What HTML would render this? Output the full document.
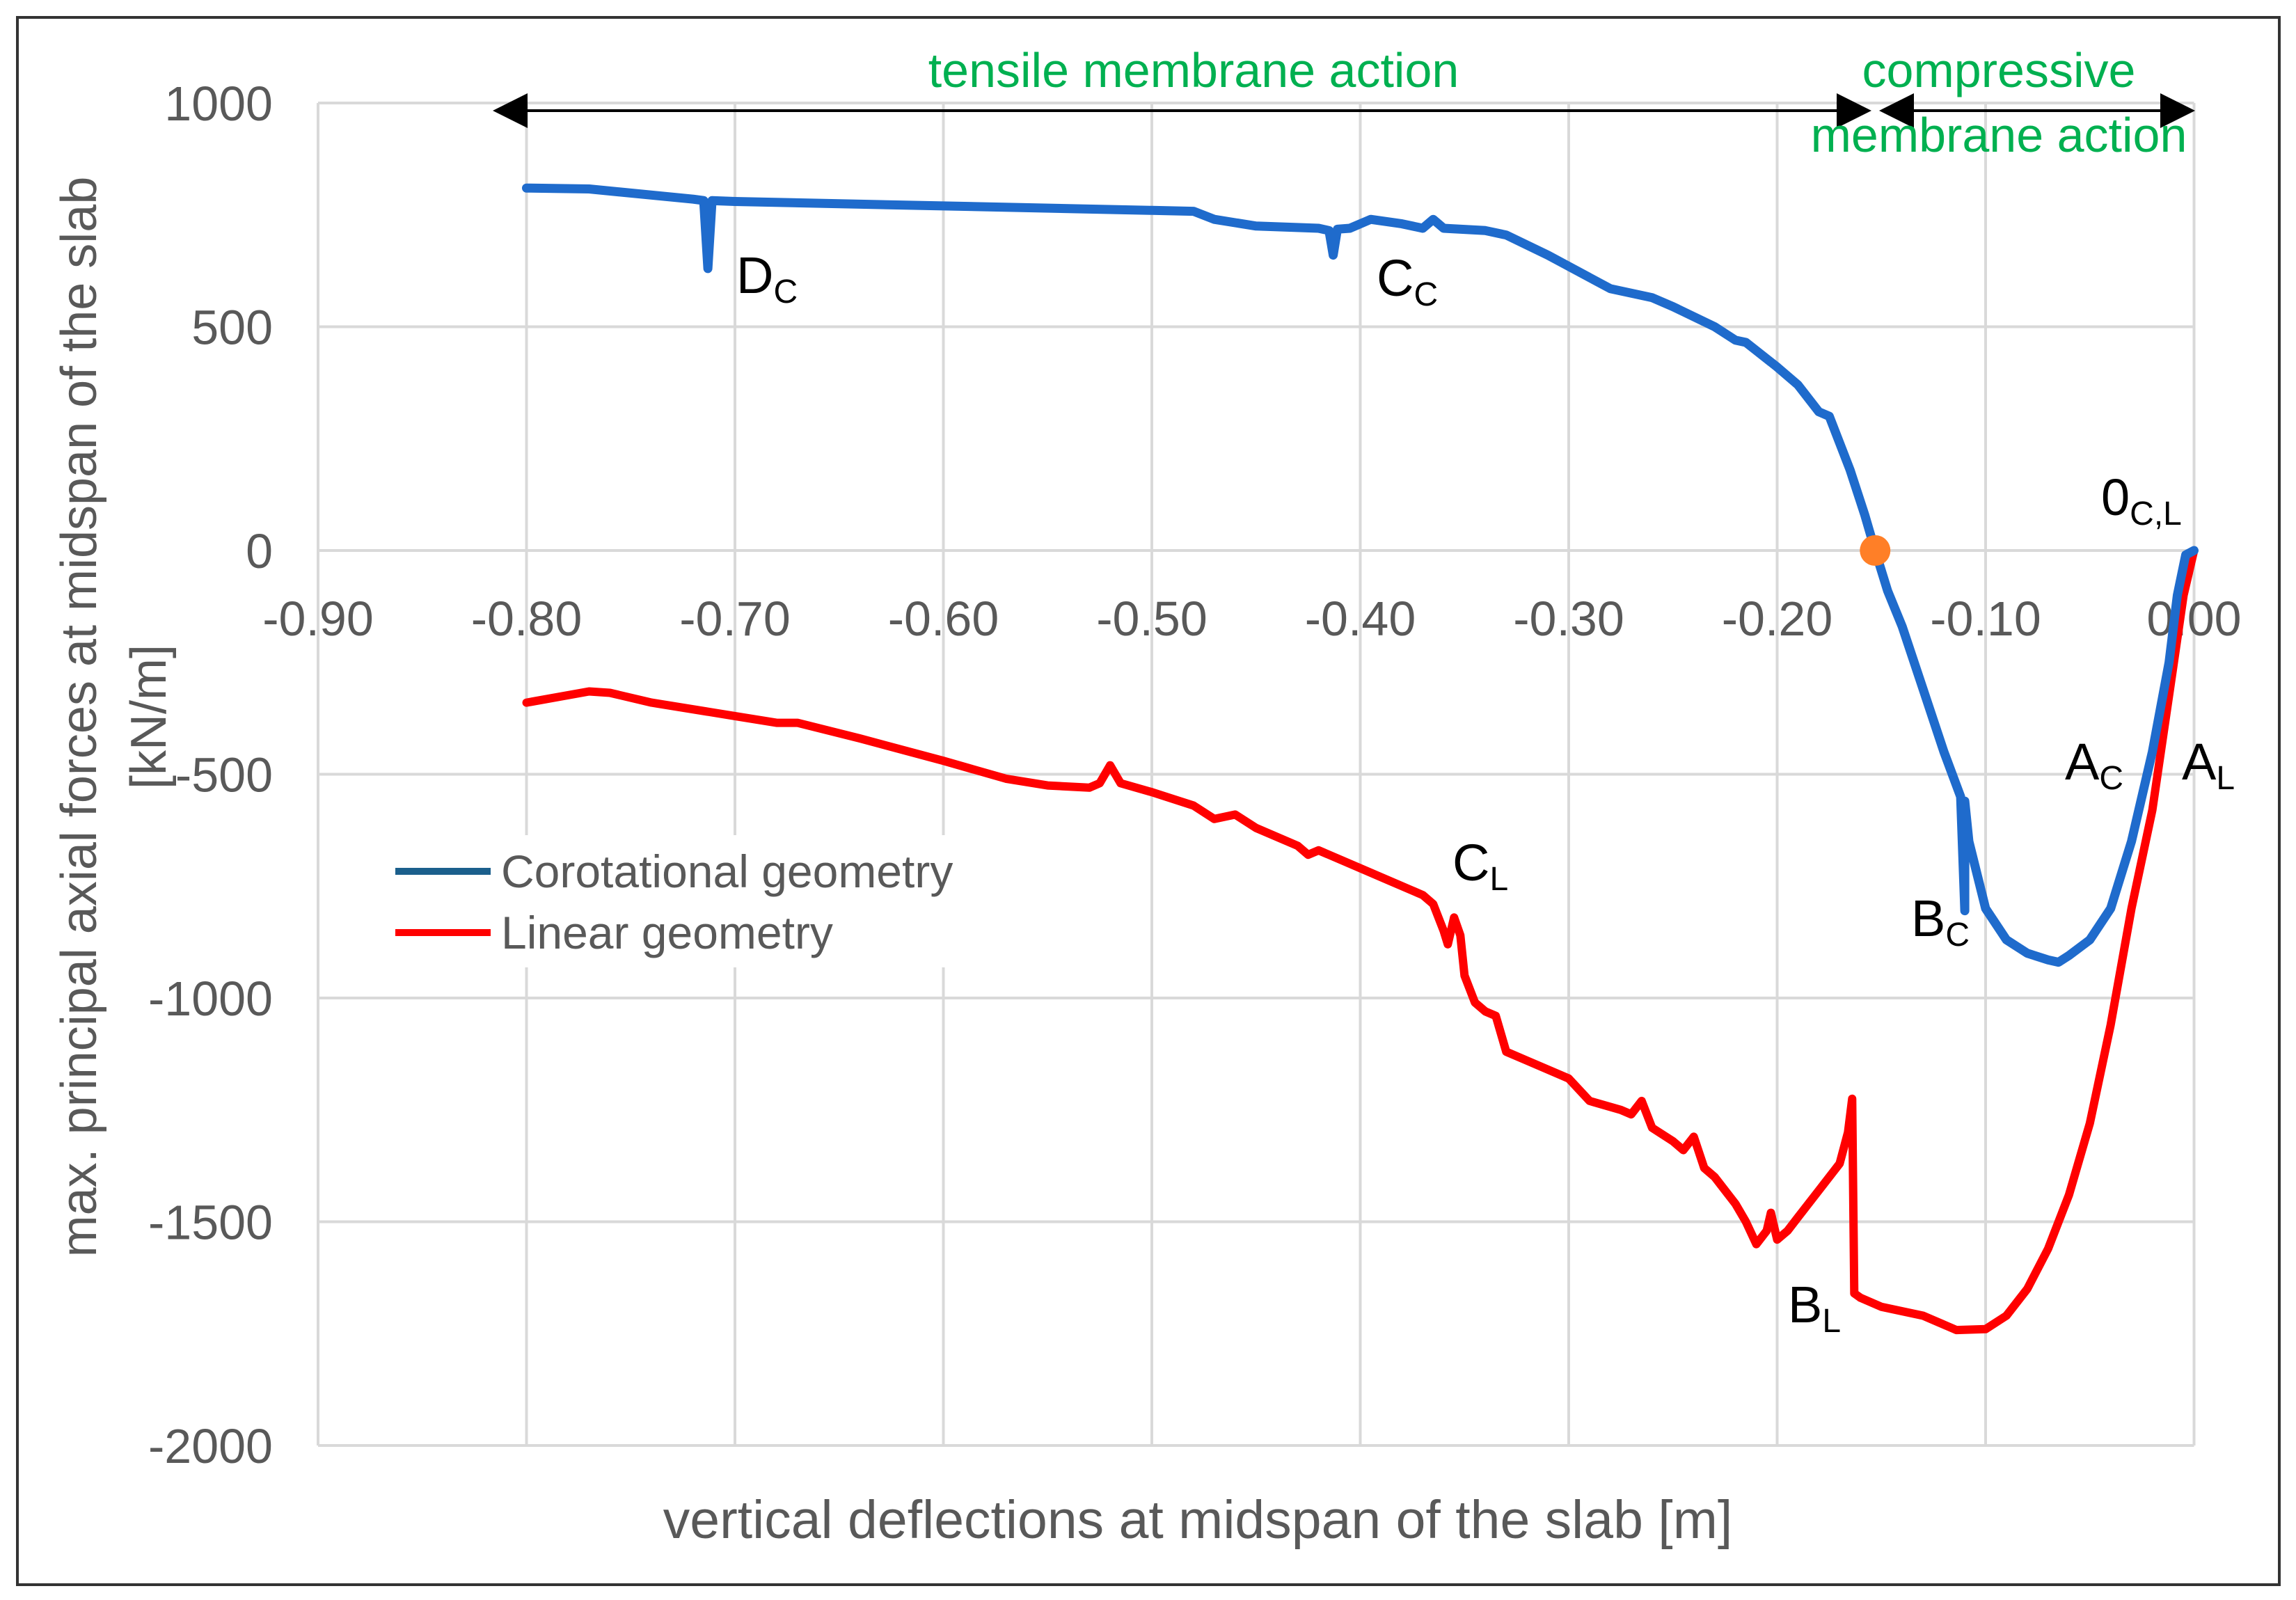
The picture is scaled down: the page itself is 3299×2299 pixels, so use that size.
<!DOCTYPE html>
<html><head><meta charset="utf-8"><style>
html,body{margin:0;padding:0;background:#fff}
svg{display:block}
text{font-family:"Liberation Sans",sans-serif}
</style></head><body>
<svg id="chart" width="3299" height="2299" viewBox="0 0 3299 2299" xmlns="http://www.w3.org/2000/svg">
<rect x="0" y="0" width="3299" height="2299" fill="#fff"/>
<rect x="25" y="25" width="3250" height="2252" fill="none" stroke="#333" stroke-width="4"/>
<g id="grid"></g>
<g id="ticks"></g>
<g id="series"></g>
<text x="1721" y="2210" font-size="77" fill="#595959" text-anchor="middle">vertical deflections at midspan of the slab [m]</text>
<g transform="translate(138,1030) rotate(-90)">
<text x="0" y="0" font-size="72" fill="#595959" text-anchor="middle">max. principal axial forces at midspan of the slab</text>
<text x="0" y="100" font-size="72" fill="#595959" text-anchor="middle">[kN/m]</text>
</g>
</svg>
<script>
const xTicks=[-0.9,-0.8,-0.7,-0.6,-0.5,-0.4,-0.3,-0.2,-0.1,0];
const xTickLabels=["-0.90","-0.80","-0.70","-0.60","-0.50","-0.40","-0.30","-0.20","-0.10","0.00"];
const yTicks=[1000,500,0,-500,-1000,-1500,-2000];
const yTickLabels=["1000","500","0","-500","-1000","-1500","-2000"];
const coroX=[-0.80,-0.77,-0.72,-0.715,-0.713,-0.711,-0.70,-0.60,-0.50,-0.48,-0.47,-0.45,-0.42,-0.415,-0.413,-0.411,-0.405,-0.395,-0.38,-0.37,-0.365,-0.36,-0.34,-0.33,-0.31,-0.29,-0.28,-0.26,-0.25,-0.23,-0.22,-0.215,-0.20,-0.19,-0.18,-0.175,-0.165,-0.158,-0.153,-0.147,-0.14,-0.13,-0.12,-0.112,-0.110,-0.110,-0.108,-0.10,-0.09,-0.08,-0.07,-0.065,-0.06,-0.05,-0.04,-0.03,-0.02,-0.012,-0.008,-0.004,0];
const coroY=[810,808,785,782,630,782,780,770,760,758,740,725,720,715,660,718,720,740,730,720,740,720,715,705,660,610,585,565,545,500,470,465,410,370,310,300,180,80,0,-90,-170,-310,-450,-550,-805,-560,-650,-800,-870,-900,-915,-920,-905,-870,-800,-650,-450,-250,-100,-10,0];
const linX=[-0.80,-0.77,-0.76,-0.74,-0.70,-0.68,-0.67,-0.64,-0.60,-0.57,-0.55,-0.53,-0.525,-0.52,-0.515,-0.50,-0.48,-0.47,-0.46,-0.45,-0.43,-0.425,-0.42,-0.40,-0.38,-0.37,-0.365,-0.36,-0.358,-0.355,-0.352,-0.35,-0.345,-0.34,-0.335,-0.33,-0.32,-0.30,-0.29,-0.275,-0.27,-0.265,-0.26,-0.25,-0.245,-0.24,-0.235,-0.23,-0.22,-0.215,-0.21,-0.205,-0.203,-0.20,-0.195,-0.19,-0.18,-0.17,-0.166,-0.164,-0.163,-0.16,-0.15,-0.14,-0.13,-0.12,-0.114,-0.10,-0.09,-0.08,-0.07,-0.06,-0.05,-0.04,-0.03,-0.02,-0.01,-0.005,0];
const linY=[-340,-315,-318,-340,-370,-385,-385,-420,-470,-510,-525,-530,-520,-480,-520,-540,-570,-600,-590,-620,-660,-680,-670,-710,-750,-770,-790,-850,-880,-820,-860,-950,-1010,-1030,-1040,-1120,-1140,-1180,-1230,-1250,-1260,-1230,-1290,-1320,-1340,-1310,-1380,-1400,-1460,-1500,-1550,-1520,-1480,-1540,-1520,-1490,-1430,-1370,-1300,-1225,-1660,-1670,-1690,-1700,-1710,-1730,-1742,-1740,-1710,-1650,-1560,-1440,-1280,-1060,-800,-580,-260,-100,0];
const NS="http://www.w3.org/2000/svg";
const X=v=>457+(v+0.9)/0.1*299.5;
const Y=v=>791-v/500*321.5;
function mk(tag,attrs,parent){const e=document.createElementNS(NS,tag);for(const k in attrs)e.setAttribute(k,attrs[k]);parent.appendChild(e);return e;}
const grid=document.getElementById('grid'),ticks=document.getElementById('ticks'),series=document.getElementById('series');
xTicks.forEach((t,i)=>{
 const l=mk('line',{x1:X(t),x2:X(t),y1:Y(1000),y2:Y(-2000),stroke:'#d9d9d9','stroke-width':4},grid);
 
 
 const tx=mk('text',{x:X(t),y:913,'font-size':70,fill:'#595959','text-anchor':'middle'},ticks);
 tx.textContent=xTickLabels[i];
 
 
});
yTicks.forEach((t,i)=>{
 const l=mk('line',{x1:X(-0.9),x2:X(0),y1:Y(t),y2:Y(t),stroke:'#d9d9d9','stroke-width':4},grid);
 
 
 const tx=mk('text',{x:392,y:Y(t)+25,'font-size':70,fill:'#595959','text-anchor':'end'},ticks);
 tx.textContent=yTickLabels[i];
 
 
});
const lb=mk('rect',{x:545,y:1200,width:840,height:190,fill:'#fff'},grid);


function path(xs,ys){return xs.map((x,i)=>(i?'L':'M')+X(x).toFixed(1)+' '+Y(ys[i]).toFixed(1)).join(' ');}
const lin=mk('path',{d:path(linX,linY),fill:'none',stroke:'#ff0000','stroke-width':12,'stroke-linejoin':'round','stroke-linecap':'round'},series);


const cor=mk('path',{d:path(coroX,coroY),fill:'none',stroke:'#1f6bcc','stroke-width':13,'stroke-linejoin':'round','stroke-linecap':'round'},series);


const dot=mk('circle',{cx:X(-0.153),cy:Y(0),r:22,fill:'#ff7f27'},series);


</script>
<svg style="position:absolute;left:0;top:0" width="3299" height="2299">
<g>
<line x1="568" y1="1252" x2="705" y2="1252" stroke="#1b5f8c" stroke-width="10"/>
<text x="720" y="1275" font-family="Liberation Sans,sans-serif" font-size="66" fill="#595959">Corotational geometry</text>
<line x1="568" y1="1340" x2="705" y2="1340" stroke="#ff0000" stroke-width="10"/>
<text x="720" y="1363" font-family="Liberation Sans,sans-serif" font-size="66" fill="#595959">Linear geometry</text>
</g>
<g fill="#000">
<line x1="740" y1="159" x2="2660" y2="159" stroke="#000" stroke-width="4"/>
<polygon points="708,159 758,134 758,184"/>
<polygon points="2689,159 2639,134 2639,184"/>
<line x1="2730" y1="159" x2="3125" y2="159" stroke="#000" stroke-width="4"/>
<polygon points="2700,159 2750,134 2750,184"/>
<polygon points="3154,159 3104,134 3104,184"/>
</g>
<g font-family="Liberation Sans,sans-serif" font-size="70" fill="#00b050" text-anchor="middle">
<text x="1715" y="125">tensile membrane action</text>
<text x="2872" y="125">compressive</text>
<text x="2872" y="218">membrane action</text>
</g>
<g font-family="Liberation Sans,sans-serif" font-size="74" fill="#000">
<text x="1058" y="421">D<tspan font-size="48" dy="14">C</tspan></text>
<text x="1978" y="425">C<tspan font-size="48" dy="14">C</tspan></text>
<text x="3019" y="740">0<tspan font-size="48" dy="14">C,L</tspan></text>
<text x="2967" y="1120">A<tspan font-size="48" dy="14">C</tspan></text>
<text x="3135" y="1120">A<tspan font-size="48" dy="14">L</tspan></text>
<text x="2746" y="1345">B<tspan font-size="48" dy="14">C</tspan></text>
<text x="2087" y="1265">C<tspan font-size="48" dy="14">L</tspan></text>
<text x="2569" y="1900">B<tspan font-size="48" dy="14">L</tspan></text>
</g>
</svg>
</body></html>
